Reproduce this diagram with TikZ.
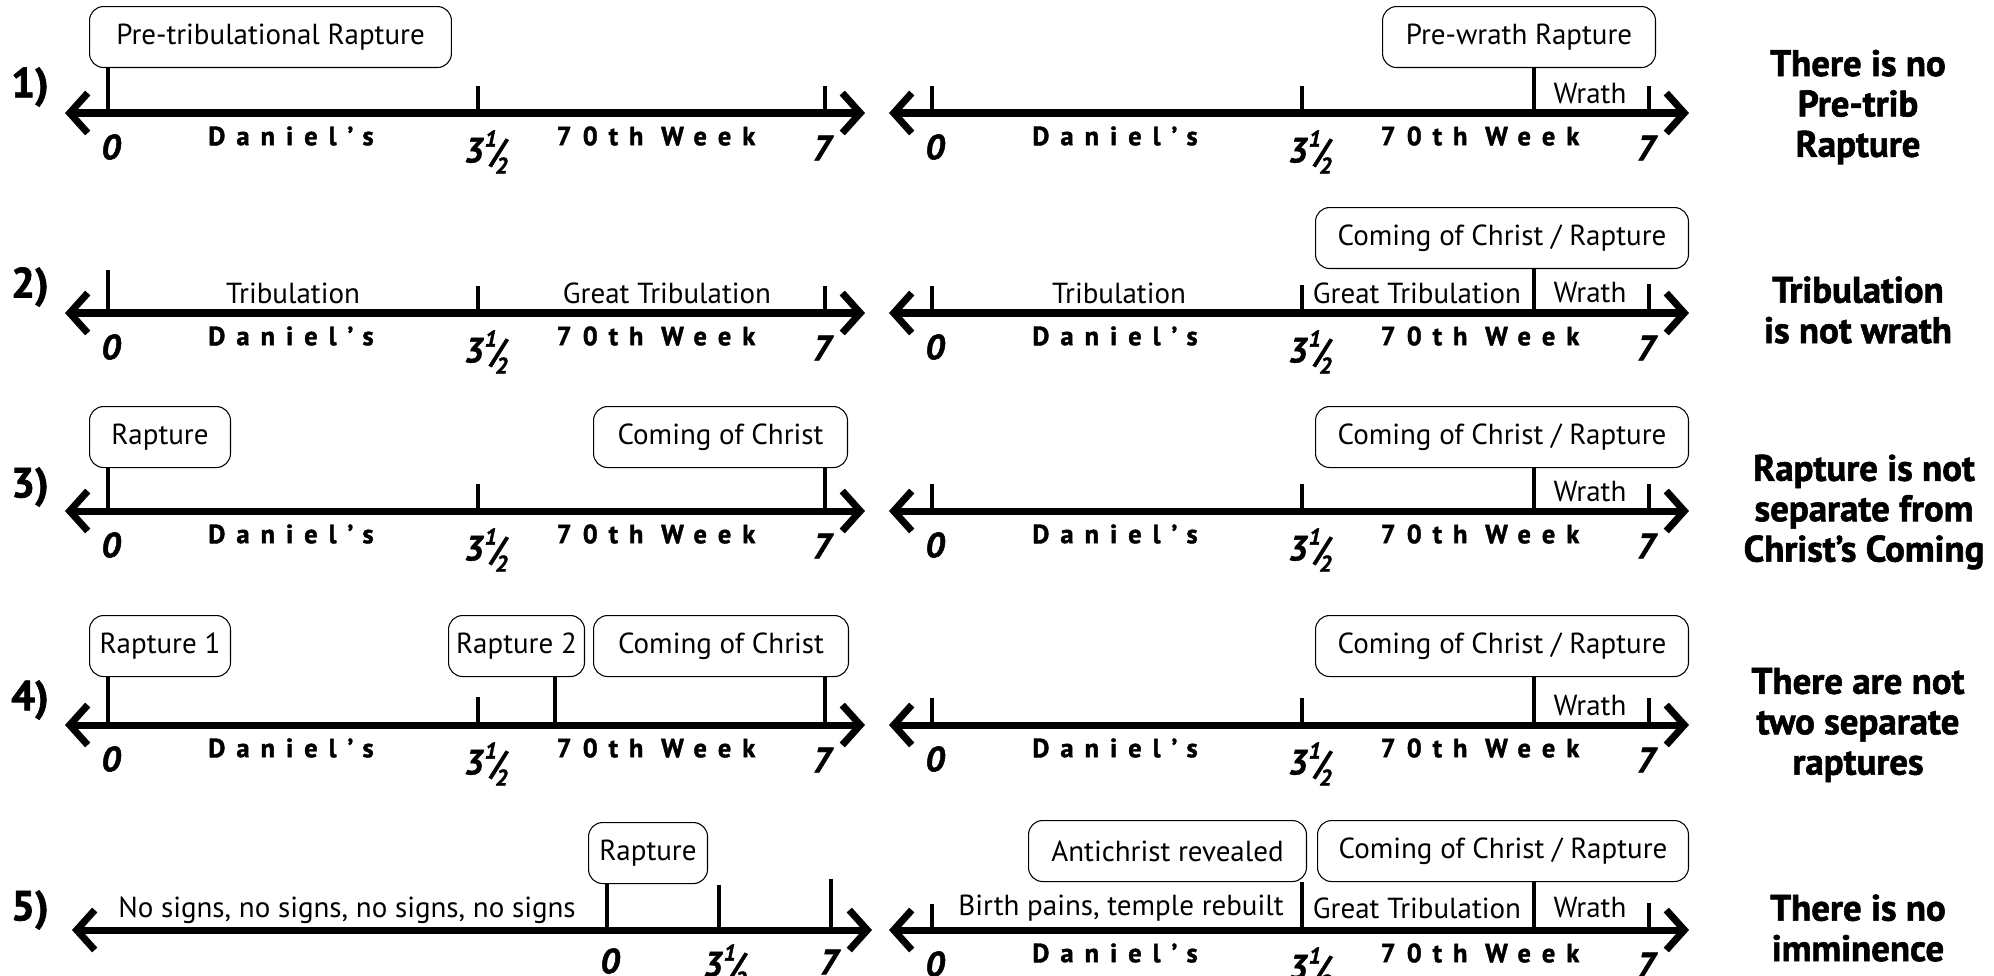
\documentclass[tikz,border=0pt]{standalone}
\usepackage{fontspec}
\setmainfont{PT Sans}
\newfontfamily\heavyfont[BoldFeatures={FakeBold=1.6},BoldItalicFeatures={FakeBold=1.4}]{PT Sans}
\usetikzlibrary{positioning,arrows.meta}
\newcommand{\threehalf}{3\kern.03em\raisebox{.45em}{\fontsize{13}{13}\selectfont 1}\kern-.16em{\fontsize{19}{19}\selectfont/}\kern-.26em\raisebox{-.32em}{\fontsize{13}{13}\selectfont 2}}
% one line of the week: ends, ticks positions and the labels under it
\newcommand{\weekaxis}[3]{%
  \coordinate (#1-a) at (#2-43,#3);
  \coordinate (#1-b) at (#2+757,#3);
  \coordinate (#1-0) at (#2,#3);
  \coordinate (#1-h) at (#2+370,#3);
  \coordinate (#1-x) at (#2+602,#3);
  \coordinate (#1-7) at (#2+717,#3);
  \draw[weekline] (#1-a) -- (#1-b);
  \node[daynum] (#1-n0) at (#2+3,#3+34) {0};
  \node[wk] (#1-d) at (#2+183,#3+23) {Daniel’s};
  \node[daynum] (#1-nh) at (#2+378,#3+39) {\threehalf};
  \node[wk] (#1-w) at (#2+548,#3+23) {70th Week};
  \node[daynum] (#1-n7) at (#2+714,#3+35) {7};
}

\begin{document}
\begin{tikzpicture}[x=0.02cm, y=-0.02cm,
    weekline/.style={line width=4pt,
      {Straight Barb[length=0.36cm,width=0.8cm]}-{Straight Barb[length=0.36cm,width=0.8cm]}},
    stub/.style={line width=2.3pt},
    evt/.style={draw, line width=0.6pt, rounded corners=8pt, anchor=north west,
                minimum height=1.22cm, inner sep=0pt, font=\fontsize{16.5}{19}\selectfont},
    era/.style={inner sep=1pt, font=\fontsize{16.5}{19}\selectfont},
    daynum/.style={inner sep=0pt, font=\heavyfont\fontsize{20}{21}\selectfont\bfseries\itshape},
    wk/.style={inner sep=0pt, font=\heavyfont\fontsize{15}{16}\selectfont\bfseries\addfontfeature{LetterSpace=42}},
    rowno/.style={inner sep=0pt, font=\heavyfont\bfseries\fontsize{24}{26}\selectfont},
    verdict/.style={align=center, inner sep=0pt, font=\heavyfont\bfseries\fontsize{21}{23}\selectfont}]
  \useasboundingbox (0,0) rectangle (1994,975);

  % 1) pre-trib vs pre-wrath
  \node[rowno] (n1) at (30,87) {1)};
  \node[evt, minimum width=7.24cm] (pretrib) at (89,6) {Pre-tribulational Rapture};
  \node[evt, minimum width=5.46cm] (prewrath) at (1382,6) {Pre-wrath Rapture};
  \weekaxis{r1l}{108}{113}
  \weekaxis{r1r}{932}{113}
  \draw[stub] (r1l-0) -- (r1l-0 |- pretrib.south);
  \draw[stub] (r1l-h) -- ++(0,-27);
  \draw[stub] (r1l-7) -- ++(0,-27);
  \draw[stub] (r1r-0) -- ++(0,-27);
  \draw[stub] (r1r-h) -- ++(0,-27);
  \draw[stub] (r1r-x) -- (r1r-x |- prewrath.south);
  \draw[stub] (r1r-7) -- ++(0,-27);
  \node[era] (wr1) at (1590,94) {Wrath};
  \node[verdict] (v1) at (1858,107) {There is no\\Pre-trib\\Rapture};

  % 2) tribulation and wrath
  \node[rowno] (n2) at (30,287) {2)};
  \node[evt, minimum width=7.46cm] (ccr2) at (1315,207) {Coming of Christ / Rapture};
  \weekaxis{r2l}{108}{313}
  \weekaxis{r2r}{932}{313}
  \draw[stub] (r2l-0) -- ++(0,-43);
  \draw[stub] (r2l-h) -- ++(0,-27);
  \draw[stub] (r2l-7) -- ++(0,-27);
  \draw[stub] (r2r-0) -- ++(0,-27);
  \draw[stub] (r2r-h) -- ++(0,-28);
  \draw[stub] (r2r-x) -- (r2r-x |- ccr2.south);
  \draw[stub] (r2r-7) -- ++(0,-29);
  \node[era] (tr2l) at (293,293) {Tribulation};
  \node[era] (gt2l) at (667,293) {Great Tribulation};
  \node[era] (tr2r) at (1119,293) {Tribulation};
  \node[era] (gt2r) at (1417,293) {Great Tribulation};
  \node[era] (wr2) at (1590,293) {Wrath};
  \node[verdict] (v2) at (1858,310) {Tribulation\\is not wrath};

  % 3) rapture and coming
  \node[rowno] (n3) at (30,487) {3)};
  \node[evt, minimum width=2.82cm] (rap3) at (89,406) {Rapture};
  \node[evt, minimum width=5.08cm] (coc3) at (593,406) {Coming of Christ};
  \node[evt, minimum width=7.46cm] (ccr3) at (1315,406) {Coming of Christ / Rapture};
  \weekaxis{r3l}{108}{511}
  \weekaxis{r3r}{932}{511}
  \draw[stub] (r3l-0) -- (r3l-0 |- rap3.south);
  \draw[stub] (r3l-h) -- ++(0,-27);
  \draw[stub] (r3l-7) -- (r3l-7 |- coc3.south);
  \draw[stub] (r3r-0) -- ++(0,-27);
  \draw[stub] (r3r-h) -- ++(0,-27);
  \draw[stub] (r3r-x) -- (r3r-x |- ccr3.south);
  \draw[stub] (r3r-7) -- ++(0,-27);
  \node[era] (wr3) at (1590,492) {Wrath};
  \node[verdict] (v3) at (1864,512) {Rapture is not\\separate from\\Christ’s Coming};

  % 4) two raptures
  \node[rowno] (n4) at (30,700) {4)};
  \node[evt, minimum width=2.82cm] (rap4a) at (89,615) {Rapture 1};
  \node[evt, minimum width=2.72cm] (rap4b) at (448,615) {Rapture 2};
  \node[evt, minimum width=5.1cm] (coc4) at (593,615) {Coming of Christ};
  \node[evt, minimum width=7.46cm] (ccr4) at (1315,615) {Coming of Christ / Rapture};
  \weekaxis{r4l}{108}{725}
  \weekaxis{r4r}{932}{725}
  \coordinate (r4l-r) at (555,725);
  \draw[stub] (r4l-0) -- (r4l-0 |- rap4a.south);
  \draw[stub] (r4l-h) -- ++(0,-28);
  \draw[stub] (r4l-r) -- (r4l-r |- rap4b.south);
  \draw[stub] (r4l-7) -- (r4l-7 |- coc4.south);
  \draw[stub] (r4r-0) -- ++(0,-27);
  \draw[stub] (r4r-h) -- ++(0,-27);
  \draw[stub] (r4r-x) -- (r4r-x |- ccr4.south);
  \draw[stub] (r4r-7) -- ++(0,-27);
  \node[era] (wr4) at (1590,706) {Wrath};
  \node[verdict] (v4) at (1858,725) {There are not\\two separate\\raptures};

  % 5) imminence
  \node[rowno] (n5) at (30,910) {5)};
  \node[evt, minimum width=2.38cm] (rap5) at (588,822) {Rapture};
  \node[evt, minimum width=5.56cm] (anti) at (1028,820) {Antichrist revealed};
  \node[evt, minimum width=7.42cm] (ccr5) at (1317,820) {Coming of Christ / Rapture};
  \coordinate (r5l-a) at (72,930);
  \coordinate (r5l-b) at (872,930);
  \coordinate (r5l-0) at (607,930);
  \coordinate (r5l-h) at (719,930);
  \coordinate (r5l-7) at (831,930);
  \draw[weekline] (r5l-a) -- (r5l-b);
  \draw[stub] (r5l-0) -- (r5l-0 |- rap5.south);
  \draw[stub] (r5l-h) -- ++(0,-45);
  \draw[stub] (r5l-7) -- ++(0,-51);
  \node[daynum] (r5l-n0) at (610,961) {0};
  \node[daynum] (r5l-nh) at (725,966) {\threehalf};
  \node[daynum] (r5l-n7) at (829,962) {7};
  \node[era] (nosig) at (347,910) {No signs, no signs, no signs, no signs};
  \weekaxis{r5r}{932}{930}
  \draw[stub] (r5r-0) -- ++(0,-26);
  \draw[stub] (r5r-h) -- (r5r-h |- anti.south);
  \draw[stub] (r5r-x) -- (r5r-x |- ccr5.south);
  \draw[stub] (r5r-7) -- ++(0,-27);
  \node[era] (birth) at (1121,908) {Birth pains, temple rebuilt};
  \node[era] (gt5) at (1417,908) {Great Tribulation};
  \node[era] (wr5) at (1590,908) {Wrath};
  \node[verdict] (v5) at (1858,928) {There is no\\imminence};
\end{tikzpicture}
\end{document}
